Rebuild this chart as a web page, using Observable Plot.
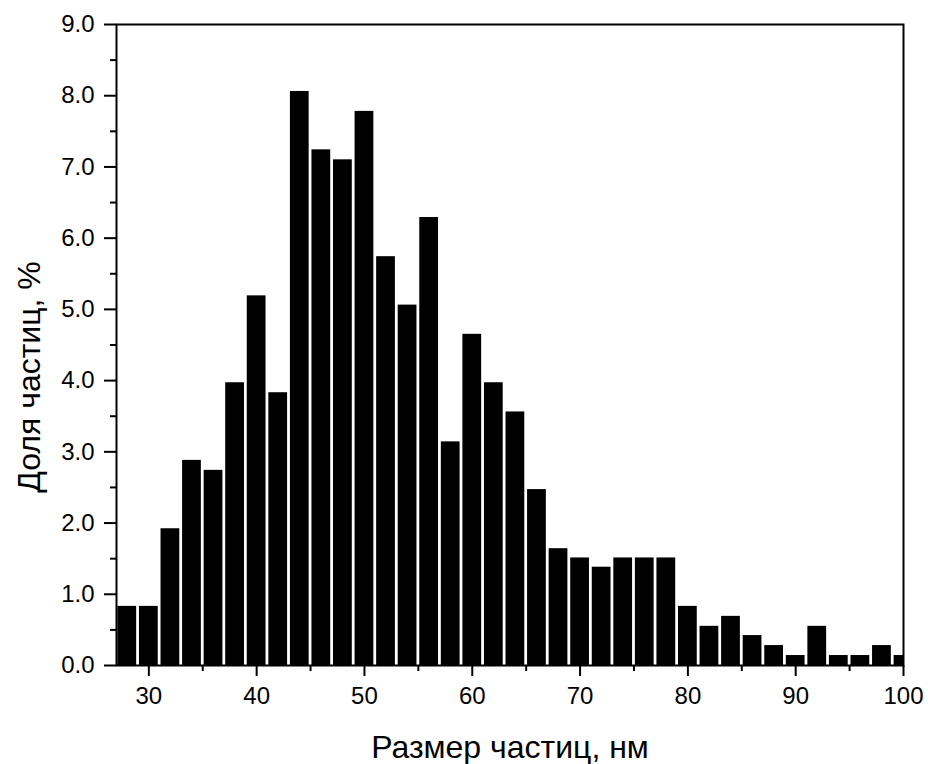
<!DOCTYPE html>
<html>
<head>
<meta charset="utf-8">
<script src="https://cdn.jsdelivr.net/npm/d3@7"></script>
<script src="https://cdn.jsdelivr.net/npm/@observablehq/plot@0.6"></script>
<style>
  html, body { margin: 0; padding: 0; background: #fff; }
  #chart svg { display: block; }
</style>
</head>
<body>
<div id="chart"></div>
<script>
// Particle size (nm), bin centres
const sizes = [28, 30, 32, 34, 36, 38, 40, 42, 44, 46, 48, 50, 52, 54, 56, 58, 60, 62, 64, 66, 68, 70, 72, 74, 76, 78, 80, 82, 84, 86, 88, 90, 92, 94, 96, 98, 100];
// Share of particles (%)
const shares = [0.83, 0.83, 1.92, 2.88, 2.74, 3.97, 5.19, 3.83, 8.06, 7.24, 7.10, 7.78, 5.74, 5.06, 6.29, 3.14, 4.65, 3.97, 3.56, 2.47, 1.64, 1.51, 1.38, 1.51, 1.51, 1.51, 0.83, 0.55, 0.69, 0.42, 0.28, 0.14, 0.55, 0.14, 0.14, 0.28, 0.14];

const xTicks = [30, 40, 50, 60, 70, 80, 90, 100];
const xMinorTicks = [35, 45, 55, 65, 75, 85, 95];
const yTicks = [0, 1, 2, 3, 4, 5, 6, 7, 8, 9];
const yMinorTicks = [0.5, 1.5, 2.5, 3.5, 4.5, 5.5, 6.5, 7.5, 8.5];
const xTitle = "Размер частиц, нм";
const yTitle = "Доля частиц, %";

const halfWidth = 0.87;
const data = sizes.map((s, i) => ({size: s, share: shares[i]}));

const chart = Plot.plot({
  width: 928,
  height: 764,
  marginLeft: 116,
  marginRight: 25,
  marginTop: 24,
  marginBottom: 99,
  style: {fontFamily: "'Liberation Sans', Arial, sans-serif", color: "black", background: "white"},
  x: {domain: [27, 100]},
  y: {domain: [0, 9]},
  marks: [
    Plot.rectY(data, {x1: d => d.size - halfWidth, x2: d => d.size + halfWidth, y: "share", fill: "black", clip: true}),
    Plot.frame({stroke: "black", strokeWidth: 2}),
    Plot.axisX({ticks: xTicks, tickSize: 11, tickPadding: 10, fontSize: 24, strokeWidth: 2, label: null, tickFormat: d3.format("d")}),
    Plot.axisX({ticks: xMinorTicks, tickSize: 6, strokeWidth: 2, text: null, label: null}),
    Plot.axisY({ticks: yTicks, tickSize: 12, tickPadding: 10, fontSize: 24, strokeWidth: 2, label: null, tickFormat: d3.format(".1f")}),
    Plot.axisY({ticks: yMinorTicks, tickSize: 6, strokeWidth: 2, text: null, label: null}),
    Plot.text([xTitle], {frameAnchor: "bottom", dy: 82, lineAnchor: "middle", fontSize: 32, fill: "black"}),
    Plot.text([yTitle], {frameAnchor: "left", dx: -87, dy: 32, rotate: -90, textAnchor: "middle", lineAnchor: "middle", fontSize: 32, fill: "black"})
  ]
});
document.getElementById("chart").append(chart);
</script>
</body>
</html>
